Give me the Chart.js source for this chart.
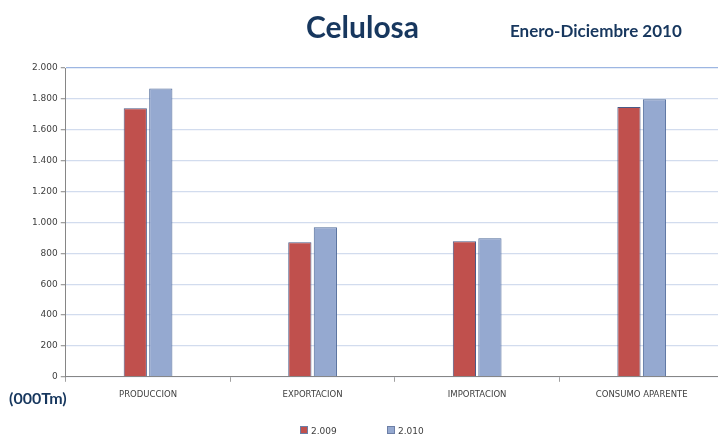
<!DOCTYPE html>
<html>
<head>
<meta charset="utf-8">
<script src="https://cdn.jsdelivr.net/npm/chart.js@4"></script>
<style>
  html, body { margin: 0; padding: 0; background: #fff; overflow: hidden; }
  #wrap { position: relative; width: 718px; height: 437px; overflow: hidden; }
  #chartBox { position: absolute; left: 0; top: 0; width: 725px; height: 437px; }
  .txt { position: absolute; font-family: Lato, 'Open Sans', sans-serif; font-weight: bold; color: #17375E; white-space: nowrap; }
  #title { left: 306px; top: 8px; font-size: 30px; }
  #subtitle { left: 510px; top: 20px; font-size: 17px; }
  #units { left: 9px; top: 388px; font-size: 16px; }
  #legend { position: absolute; top: 425px; left: 0; width: 718px; height: 12px; font-family: 'DejaVu Sans', sans-serif; font-size: 9px; color: #404040; }
  .item { position: absolute; top: 0; line-height: 12px; white-space: nowrap; }
  .box { display: inline-block; width: 6px; height: 6px; margin-right: 3px; vertical-align: 0px; border: 1px solid #6D7FA6; box-sizing: content-box; }
</style>
</head>
<body>
<div id="wrap">
  <div id="chartBox"><canvas id="myChart"></canvas></div>
  <div class="txt" id="title">Celulosa</div>
  <div class="txt" id="subtitle">Enero-Diciembre 2010</div>
  <div class="txt" id="units">(000Tm)</div>
  <div id="legend"></div>
</div>
<script>
'use strict';

// DATA
let categories = ['PRODUCCION', 'EXPORTACION', 'IMPORTACION', 'CONSUMO APARENTE'];
let seriesNames = ['2.009', '2.010'];
let values2009 = [1739, 872, 878, 1748];
let values2010 = [1868, 969, 898, 1797];
let yTicks = [0, 200, 400, 600, 800, 1000, 1200, 1400, 1600, 1800, 2000];
let seriesColors = ['#C0504D', '#95A9D0'];

// helper: 1800 -> "1.800"
function formatNum(v) {
  return String(v).replace(/\B(?=(\d{3})+(?!\d))/g, '.');
}

let canvasElem = document.getElementById('myChart').getContext('2d');

let myChartObj = {
  type: 'bar',
  data: {
    labels: categories,
    datasets: [
      {
        label: seriesNames[0],
        data: values2009,
        backgroundColor: seriesColors[0],
        borderColor: '#4B5A86',
        borderWidth: 1,
      },
      {
        label: seriesNames[1],
        data: values2010,
        backgroundColor: seriesColors[1],
        borderColor: '#4F6A99',
        borderWidth: 1,
      },
    ],
  },
  options: {
    responsive: true,
    maintainAspectRatio: false,
    animation: false,
    layout: { padding: { top: 68, left: 29, right: 1, bottom: 29 } },
    datasets: {
      bar: { categoryPercentage: 0.31, barPercentage: 0.91 },
    },
    plugins: {
      title: { display: false },
      tooltip: { enabled: false },
      legend: { display: false },
    },
    scales: {
      x: {
        border: { color: '#868686' },
        grid: {
          drawOnChartArea: false,
          drawTicks: true,
          tickLength: 5,
          tickColor: '#A0A0A0',
        },
        ticks: {
          color: '#404040',
          padding: 8,
          font: { family: 'DejaVu Sans', size: 8.5 },
        },
      },
      y: {
        min: 0,
        max: 2000,
        afterBuildTicks: function (axis) {
          axis.ticks = yTicks.map(v => ({ value: v }));
        },
        border: { color: '#868686' },
        grid: {
          color: ctx => (ctx.tick && ctx.tick.value === 2000 ? '#9DB6E2' : '#D2DCEE'),
          lineWidth: 1.3,
          tickLength: 5,
          tickColor: '#A0A0A0',
        },
        ticks: {
          color: '#404040',
          padding: 3,
          font: { family: 'DejaVu Sans', size: 9 },
          callback: v => formatNum(v),
        },
      },
    },
  },
};

new Chart(canvasElem, myChartObj);

// legend (html)
let legendElem = document.getElementById('legend');
let legendX = [300, 387];
for (let i = 0; i < seriesNames.length; i++) {
  let item = document.createElement('span');
  item.className = 'item';
  item.style.left = legendX[i] + 'px';
  let box = document.createElement('span');
  box.className = 'box';
  box.style.background = seriesColors[i];
  item.appendChild(box);
  item.appendChild(document.createTextNode(seriesNames[i]));
  legendElem.appendChild(item);
}
</script>
</body>
</html>
